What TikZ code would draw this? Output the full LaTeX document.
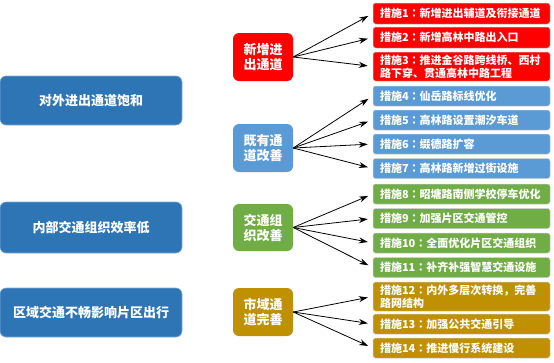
\documentclass[tikz,border=0pt]{standalone}
\usepackage{fontspec}
\setmainfont{Noto Sans CJK SC}
\newfontfamily\tcfont{Noto Sans CJK TC}
\newcommand{\mycolon}{{\tcfont ：}}
\usetikzlibrary{arrows.meta}
\definecolor{cred}{RGB}{255,0,0}
\definecolor{cdeep}{RGB}{46,117,182}
\definecolor{cblue}{RGB}{91,155,213}
\definecolor{cgreen}{RGB}{112,173,71}
\definecolor{cgold}{RGB}{191,144,0}
\tikzset{
  leftbox/.style={fill=cdeep, draw=cdeep!60!white, line width=0.6pt, rounded corners=6pt, minimum width=182pt, text=white, font=\fontsize{13}{15}\selectfont\bfseries, inner sep=0pt},
  midbox/.style={rounded corners=6pt, minimum width=60pt, minimum height=48pt, text=white, align=center, font=\fontsize{13}{15}\selectfont\bfseries, inner sep=0pt},
  measure/.style={rounded corners=2.5pt, draw=white!80!black, line width=0.5pt, text width=163pt, inner xsep=7pt, inner ysep=0pt, align=left, text=white, font=\fontsize{11}{13}\selectfont\bfseries, minimum height=20pt},
  arr/.style={-{Stealth[length=9pt,width=6pt]}, line width=0.8pt, black, shorten >=5pt}
}
\begin{document}
\begin{tikzpicture}[x=1pt,y=-1pt]
\useasboundingbox (0,0) rectangle (554,362);
% left boxes
\node[leftbox, minimum height=49pt] (l1) at (91,100.5) {对外进出通道饱和};
\node[leftbox, minimum height=51pt] (l2) at (91,227.5) {内部交通组织效率低};
\node[leftbox, minimum height=49pt] (l3) at (91,312.5) {区域交通不畅影响片区出行};
% middle boxes
\node[midbox, fill=cred] (m1) at (263,57) {新增进\\出通道};
\node[midbox, fill=cblue] (m2) at (263,148) {既有通\\道改善};
\node[midbox, fill=cgreen, minimum height=47pt] (m3) at (263,227.5) {交通组\\织改善};
\node[midbox, fill=cgold] (m4) at (263,312) {市域通\\道完善};
% right boxes
\node[measure, fill=cred, minimum height=21pt] (r1) at (461.5,13.5) {措施1\mycolon 新增进出辅道及衔接通道};
\node[measure, fill=cred, minimum height=21pt] (r2) at (461.5,37.5) {措施2\mycolon 新增高林中路出入口};
\node[measure, fill=cred, minimum height=29pt] (r3) at (461.5,66.5) {措施3\mycolon 推进金谷路跨线桥、西村\\路下穿、贯通高林中路工程};
\node[measure, fill=cblue] (r4) at (461.5,96) {措施4\mycolon 仙岳路标线优化};
\node[measure, fill=cblue] (r5) at (461.5,120) {措施5\mycolon 高林路设置潮汐车道};
\node[measure, fill=cblue] (r6) at (461.5,144) {措施6\mycolon 缀德路扩容};
\node[measure, fill=cblue] (r7) at (461.5,168.5) {措施7\mycolon 高林路新增过街设施};
\node[measure, fill=cgreen] (r8) at (461.5,194) {措施8\mycolon 昭塘路南侧学校停车优化};
\node[measure, fill=cgreen] (r9) at (461.5,218.5) {措施9\mycolon 加强片区交通管控};
\node[measure, fill=cgreen] (r10) at (461.5,243) {措施10\mycolon 全面优化片区交通组织};
\node[measure, fill=cgreen] (r11) at (461.5,267.5) {措施11\mycolon 补齐补强智慧交通设施};
\node[measure, fill=cgold, minimum height=29pt] (r12) at (461.5,296.5) {措施12\mycolon 内外多层次转换，完善\\路网结构};
\node[measure, fill=cgold] (r13) at (461.5,324) {措施13\mycolon 加强公共交通引导};
\node[measure, fill=cgold] (r14) at (461.5,348) {措施14\mycolon 推进慢行系统建设};
% arrows
\foreach \r in {r1,r2,r3} \draw[arr] (m1.east) -- (\r.west);
\foreach \r in {r4,r5,r6,r7} \draw[arr] (m2.east) -- (\r.west);
\foreach \r in {r8,r9,r10,r11} \draw[arr] (m3.east) -- (\r.west);
\foreach \r in {r12,r13,r14} \draw[arr] (m4.east) -- (\r.west);
\end{tikzpicture}
\end{document}
